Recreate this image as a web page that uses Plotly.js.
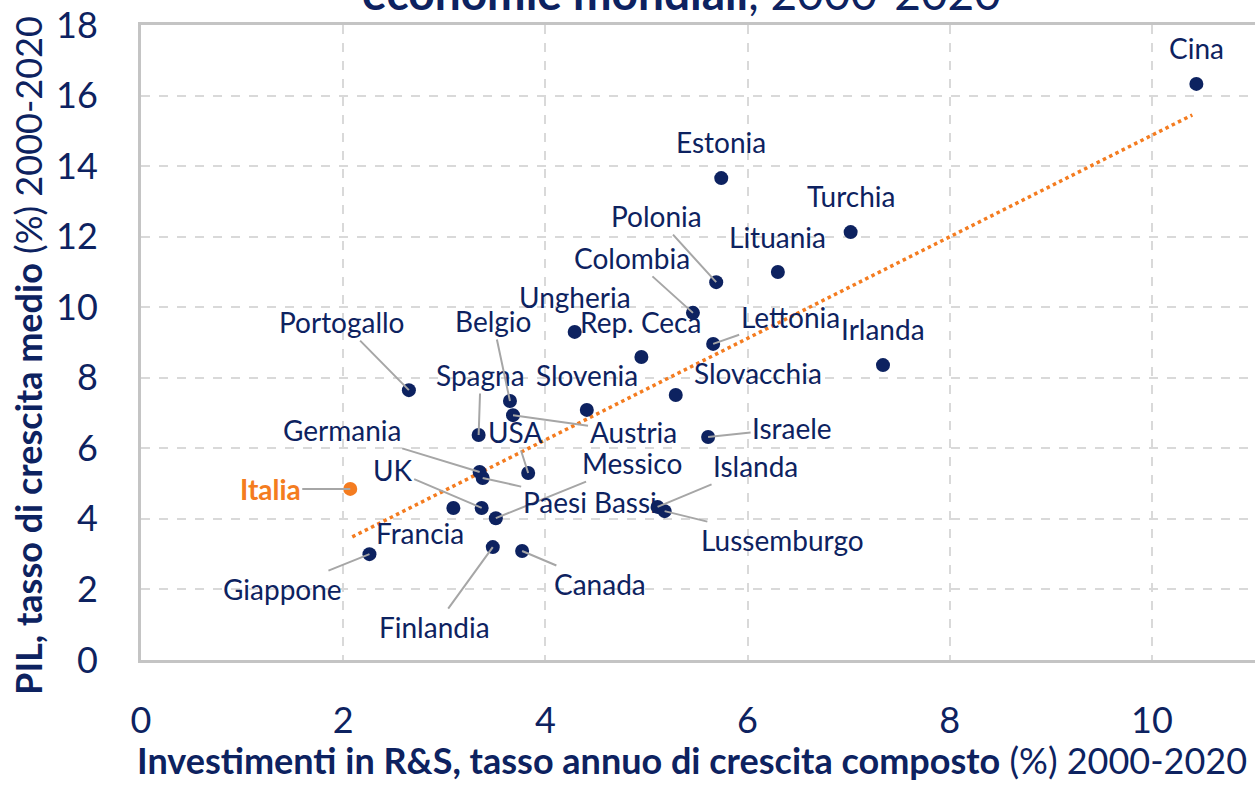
<!DOCTYPE html>
<html>
<head>
<meta charset="utf-8">
<script src="https://cdn.plot.ly/plotly-3.0.1.min.js"></script>
<style>html,body{margin:0;padding:0;background:#fff;}#chart{width:1255px;height:785px;}</style>
</head>
<body>
<div id="chart"></div>
<script>
// ---- data ----
const countries = ['Cina','Estonia','Turchia','Lituania','Polonia','Colombia','Ungheria','Rep. Ceca','Lettonia','Irlanda','Slovacchia','Slovenia','Spagna','Belgio','Portogallo','Austria','USA','Germania','Israele','Messico','Islanda','UK','Paesi Bassi','Italia','Francia','Lussemburgo','Giappone','Canada','Finlandia'];
const rdGrowth  = [10.44, 5.74, 7.02, 6.30, 5.69, 5.46, 4.29, 4.95, 5.66, 7.34, 5.29, 4.41, 3.34, 3.65, 2.65, 3.68, 3.83, 3.35, 5.61, 3.51, 5.11, 3.37, 3.38, 2.07, 3.09, 5.18, 2.26, 3.77, 3.48];
const gdpGrowth = [16.33, 13.66, 12.13, 11.00, 10.71, 9.84, 9.30, 8.59, 8.96, 8.36, 7.51, 7.09, 6.38, 7.34, 7.65, 6.94, 5.30, 5.33, 6.32, 4.02, 4.34, 4.31, 5.16, 4.85, 4.31, 4.22, 3.00, 3.09, 3.20];
const trendX = [2.09, 10.40];
const trendY = [3.49, 15.45];
const xTicks = [0, 2, 4, 6, 8, 10];
const yTicks = [0, 2, 4, 6, 8, 10, 12, 14, 16, 18];
const highlight = 'Italia';
const chartTitle = '<b>economie mondiali</b>, 2000-2020';
const xTitle = '<b>Investimenti in R&S, tasso annuo di crescita composto</b> (%) 2000-2020';
const yTitle = '<b>PIL, tasso di crescita medio</b> (%) 2000-2020';

// ---- label placement (pixel offsets of label centre from point; leader line yes/no) ----
const labelDX = [0, 0, 0, 0, -60, -61, 0, -1, 77, 0, 82, 0, 2, -17, -67, 120, -13, -138, 84, 136, 98, -89, 107, -80, -33, 118, -87, 78, -58];
const labelDY = [-36, -36, -36, -35, -66, -55, -35, -35, -27, -36, -22, -35, -60, -80, -68, 17, -41, -42, -9, -55, -41, -38, 24, 0, 25, 29, 35, 33, 80];
const leader  = [0, 0, 0, 0, 1, 1, 0, 0, 1, 0, 0, 0, 1, 1, 1, 1, 1, 1, 1, 1, 1, 1, 1, 1, 0, 1, 1, 1, 1];

const NAVY = '#0d2260';
const ORANGE = '#f47c20';
const FONT = 'Lato, "Source Sans Pro", "Noto Sans", sans-serif';

const markerColors = countries.map(c => c === highlight ? ORANGE : NAVY);

const traces = [
  {
    x: trendX, y: trendY, mode: 'lines', type: 'scatter',
    line: {color: ORANGE, width: 3.5, dash: 'dot'},
    hoverinfo: 'skip', showlegend: false
  },
  {
    x: rdGrowth, y: gdpGrowth, text: countries, mode: 'markers', type: 'scatter',
    marker: {color: markerColors, size: 14},
    hovertemplate: '%{text}: %{x}, %{y}<extra></extra>', showlegend: false
  }
];

const annotations = countries.map((c, i) => {
  const isHi = c === highlight;
  return {
    x: rdGrowth[i], y: gdpGrowth[i], xref: 'x', yref: 'y',
    text: isHi ? '<b>' + c + '</b>' : c,
    showarrow: true, arrowhead: 0, arrowwidth: 2, standoff: 0,
    arrowcolor: leader[i] ? '#a6a6a6' : 'rgba(0,0,0,0)',
    ax: labelDX[i], ay: labelDY[i], axref: 'pixel', ayref: 'pixel',
    font: {family: FONT, size: 28, color: isHi ? ORANGE : NAVY}
  };
});

// chart title (only its lower part lies inside the picture, as in the reference)
annotations.push({
  xref: 'paper', yref: 'paper', x: 0.485, y: 1.005, xanchor: 'center', yanchor: 'bottom',
  showarrow: false, text: chartTitle,
  font: {family: FONT, size: 46, color: NAVY}
});
// x-axis title
annotations.push({
  xref: 'paper', yref: 'paper', x: 0.4946, y: -0.157, xanchor: 'center', yanchor: 'middle',
  showarrow: false, text: xTitle,
  font: {family: FONT, size: 36, color: NAVY}
});
// y-axis title
annotations.push({
  xref: 'paper', yref: 'paper', x: -0.1014, y: 0.479, xanchor: 'center', yanchor: 'middle',
  showarrow: false, textangle: -90, text: yTitle,
  font: {family: FONT, size: 36, color: NAVY}
});

const layout = {
  width: 1255, height: 785,
  margin: {l: 141, r: 0, t: 25, b: 125},
  paper_bgcolor: '#ffffff', plot_bgcolor: '#ffffff',
  font: {family: FONT, color: NAVY},
  showlegend: false,
  xaxis: {
    range: [0, 11.02], tickvals: xTicks, ticktext: xTicks.map(String),
    showgrid: true, gridcolor: '#d9d9d9', gridwidth: 2, griddash: 'dash',
    zeroline: false, showline: true, linecolor: '#c4c4c4', linewidth: 3, mirror: true,
    ticks: '', ticklabelstandoff: 27,
    tickfont: {family: FONT, size: 36, color: NAVY}
  },
  yaxis: {
    range: [0, 18], tickvals: yTicks, ticktext: yTicks.map(String),
    showgrid: true, gridcolor: '#d9d9d9', gridwidth: 2, griddash: 'dash',
    zeroline: false, showline: true, linecolor: '#c4c4c4', linewidth: 3,
    ticks: '', ticklabelstandoff: 33,
    tickfont: {family: FONT, size: 36, color: NAVY}
  },
  annotations: annotations
};

Plotly.newPlot('chart', traces, layout, {displayModeBar: false, responsive: false});
</script>
</body>
</html>
